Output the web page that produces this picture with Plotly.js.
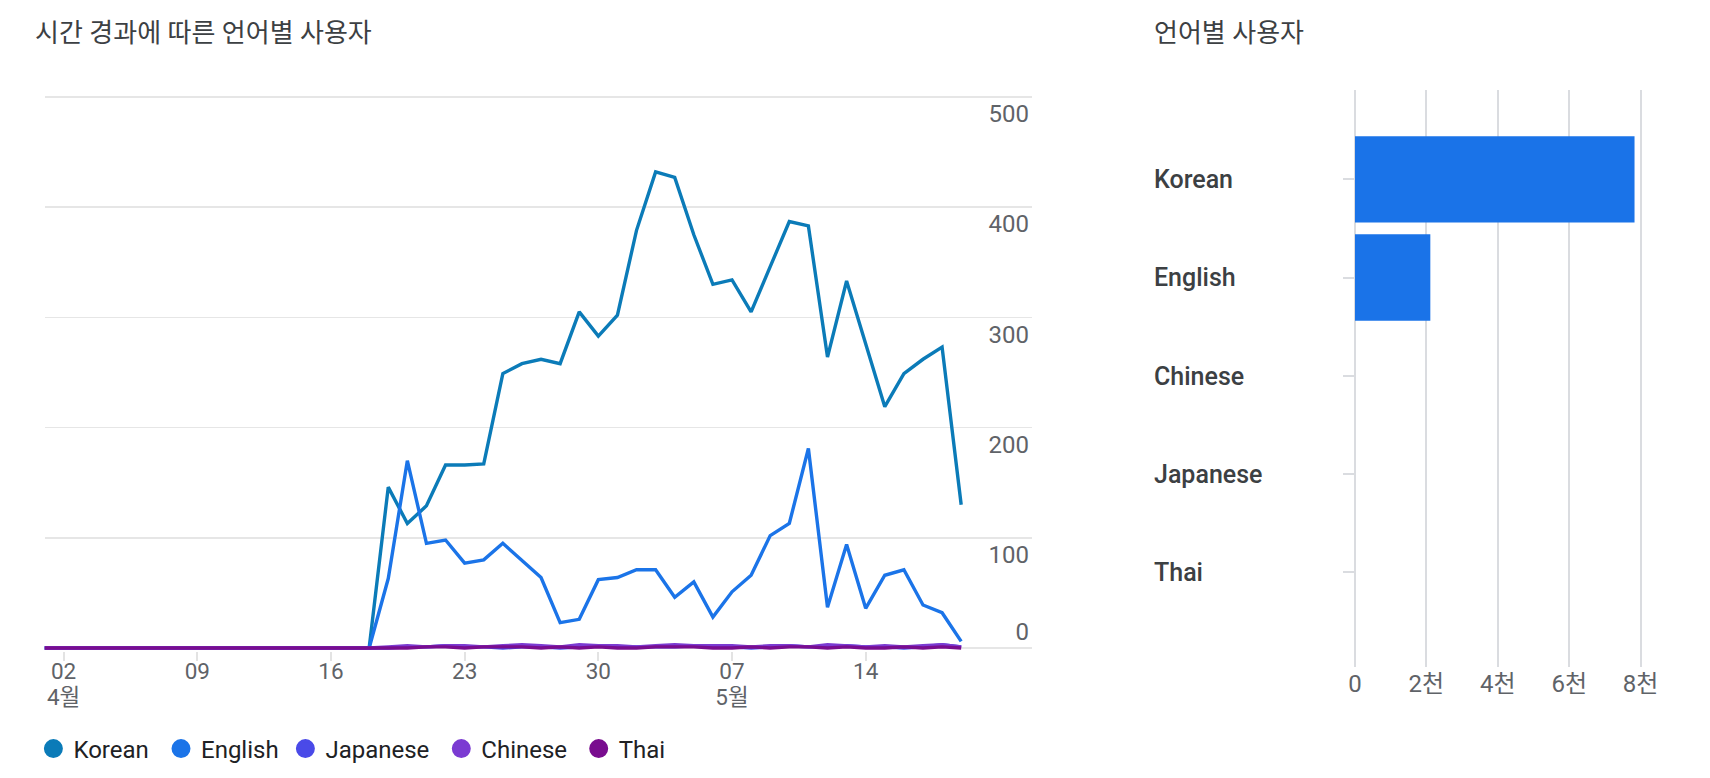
<!DOCTYPE html>
<html>
<head>
<meta charset="utf-8">
<script src="https://cdn.plot.ly/plotly-3.0.1.min.js"></script>
<style>
html,body{margin:0;padding:0;background:#ffffff;}
#chart{width:1710px;height:778px;}
</style>
</head>
<body>
<div id="chart"></div>
<script>
// ---------- data ----------
const dates = [
  '2023-04-01','2023-04-02','2023-04-03','2023-04-04','2023-04-05','2023-04-06','2023-04-07',
  '2023-04-08','2023-04-09','2023-04-10','2023-04-11','2023-04-12','2023-04-13','2023-04-14',
  '2023-04-15','2023-04-16','2023-04-17','2023-04-18','2023-04-19','2023-04-20','2023-04-21',
  '2023-04-22','2023-04-23','2023-04-24','2023-04-25','2023-04-26','2023-04-27','2023-04-28',
  '2023-04-29','2023-04-30','2023-05-01','2023-05-02','2023-05-03','2023-05-04','2023-05-05',
  '2023-05-06','2023-05-07','2023-05-08','2023-05-09','2023-05-10','2023-05-11','2023-05-12',
  '2023-05-13','2023-05-14','2023-05-15','2023-05-16','2023-05-17','2023-05-18','2023-05-19'
];
const korean = [
  0,0,0,0,0,0,0,0,0,0,0,0,0,0,0,0,0,0,
  146,113,129,166,166,167,249,258,262,258,305,283,
  302,379,432,427,375,330,334,305,346,387,383,264,333,276,219,249,262,273,130
];
const english = [
  0,0,0,0,0,0,0,0,0,0,0,0,0,0,0,0,0,0,
  63,170,95,98,77,80,95,79,64,23,26,62,
  64,71,71,46,60,28,51,66,102,113,181,37,94,36,66,71,39,32,6
];
const japanese = [
  0,0,0,0,0,0,0,0,0,0,0,0,0,0,0,0,0,0,
  0,1,1,2,1,1,0,1,1,0,1,2,
  1,1,1,1,2,1,1,0,1,2,1,1,2,1,1,0,1,3,1
];
const chinese = [
  0,0,0,0,0,0,0,0,0,0,0,0,0,0,0,0,0,0,
  1,2,1,2,2,1,2,3,2,1,3,2,
  2,1,2,3,2,2,2,1,2,2,1,3,2,1,2,1,2,3,1
];
const thai = [
  0,0,0,0,0,0,0,0,0,0,0,0,0,0,0,0,0,0,
  0,0,1,1,0,1,1,1,0,1,0,1,
  0,0,1,1,1,0,0,1,0,1,1,0,1,0,0,1,0,1,0
];
const seriesNames = ['Korean','English','Japanese','Chinese','Thai'];
const seriesColors = ['#0b7bb8','#1b74e8','#4a4ae8','#7b3bd2','#790d8f'];
const seriesValues = [korean, english, japanese, chinese, thai];

const xTickVals = ['2023-04-02','2023-04-09','2023-04-16','2023-04-23','2023-04-30','2023-05-07','2023-05-14'];
const xTickText = ['02','09','16','23','30','07','14'];
const monthTickVals = ['2023-04-02','2023-05-07'];
const monthTickText = ['4월','5월'];
const yTickVals = [0,100,200,300,400,500];
const yTickText = ['','100','200','300','400','500'];
const yZeroVals = [0];
const yZeroText = ['0'];

const barCategories = ['Korean','English','Chinese','Japanese','Thai'];
const barValues = [7830, 2110, 0, 0, 0];
const barTickVals = [0,2000,4000,6000,8000];
const barTickText = ['0','2천','4천','6천','8천'];

const leftTitle = '시간 경과에 따른 언어별 사용자';
const rightTitle = '언어별 사용자';

// ---------- layout helpers ----------
const W = 1710, H = 778;
const px = v => v / W;
const py = v => 1 - v / H;
const FONT = "Roboto, 'Noto Sans CJK KR', sans-serif";
const xRange = ['2023-04-01 00:00', '2023-05-22 17:00'];
const yRange = [-3, 503];
const barYRange = [4.965, -0.91];
const barXRange = [-60, 8100];
const legendIds = ['legend','legend2','legend3','legend4','legend5'];
const legendLeft = [33.4, 161, 285.4, 441.3, 578.7];

const traces = [];
seriesNames.forEach((n, i) => {
  traces.push({
    type: 'scatter', mode: 'lines', x: dates, y: seriesValues[i], name: n,
    line: {color: seriesColors[i], width: 3.4}, xaxis: 'x', yaxis: 'y',
    showlegend: false, hoverinfo: 'x+y+name'
  });
});
seriesNames.forEach((n, i) => {
  traces.push({
    type: 'scatter', mode: 'markers', x: [null], y: [null], name: n,
    marker: {color: seriesColors[i], size: 16, line: {color: seriesColors[i], width: 3}},
    xaxis: 'x', yaxis: 'y', legend: legendIds[i],
    showlegend: true, hoverinfo: 'skip'
  });
});
// helper traces so overlay axes are drawn
traces.push({type: 'scatter', mode: 'markers', x: monthTickVals, y: [null, null], xaxis: 'x3', yaxis: 'y', showlegend: false, hoverinfo: 'skip'});
traces.push({type: 'scatter', mode: 'markers', x: [null], y: yZeroVals, xaxis: 'x', yaxis: 'y4', showlegend: false, hoverinfo: 'skip'});
// bar chart
traces.push({
  type: 'bar', orientation: 'h', x: barValues, y: barCategories,
  marker: {color: '#1a73e8'}, width: 0.88, xaxis: 'x2', yaxis: 'y2', showlegend: false
});
traces.push({type: 'scatter', mode: 'markers', x: barCategories.map(() => null), y: barCategories, xaxis: 'x2', yaxis: 'y3', showlegend: false, hoverinfo: 'skip'});

const tickFont = {family: FONT, size: 24, color: '#5f6368'};
const xTickFont = {family: FONT, size: 22.5, color: '#5f6368'};
const leftYDomain = [py(648 + 3 * 1.102), py(97 - 3 * 1.102)];
const barPx = 71.4 / 2000;

const layout = {
  width: W, height: H,
  margin: {l: 0, r: 0, t: 0, b: 0},
  paper_bgcolor: '#ffffff', plot_bgcolor: 'rgba(0,0,0,0)',
  font: {family: FONT, color: '#3c4043'},
  showlegend: true,
  xaxis: {
    type: 'date', domain: [px(44.5), px(1032)], range: xRange, anchor: 'y',
    tickvals: xTickVals, ticktext: xTickText, ticks: 'outside', ticklen: 9, tickwidth: 2,
    tickcolor: '#e3e3e3', showgrid: false, zeroline: false, showline: false,
    tickfont: xTickFont, ticklabelstandoff: -9, fixedrange: true
  },
  xaxis3: {
    type: 'date', overlaying: 'x', range: xRange, anchor: 'y', side: 'bottom',
    tickvals: monthTickVals, ticktext: monthTickText, ticks: '', ticklabelstandoff: 30,
    showgrid: false, zeroline: false, showline: false, tickfont: xTickFont
  },
  yaxis: {
    domain: leftYDomain, range: yRange, side: 'right', anchor: 'x',
    tickvals: yTickVals, ticktext: yTickText, ticklabelposition: 'inside bottom',
    gridcolor: '#e6e6e6', gridwidth: 1.5, zeroline: false, showline: false, ticks: '',
    tickfont: tickFont, fixedrange: true
  },
  yaxis4: {
    overlaying: 'y', range: yRange, side: 'right', anchor: 'x',
    tickvals: yZeroVals, ticktext: yZeroText, ticklabelposition: 'inside top',
    showgrid: false, zeroline: false, showline: false, ticks: '', tickfont: tickFont
  },
  xaxis2: {
    domain: [px(1355 + barXRange[0] * barPx), px(1355 + barXRange[1] * barPx)], range: barXRange, anchor: 'y2',
    tickvals: barTickVals, ticktext: barTickText, ticks: '',
    gridcolor: '#dadce0', gridwidth: 2, zeroline: false, showline: false,
    tickfont: tickFont, fixedrange: true
  },
  yaxis2: {
    domain: [py(667), py(90)], type: 'category', categoryarray: barCategories,
    range: barYRange, anchor: 'free', position: px(1355), ticks: 'outside', ticklen: 12, tickwidth: 2,
    tickcolor: '#dadce0', showticklabels: false, showgrid: false, zeroline: false, showline: false
  },
  yaxis3: {
    overlaying: 'y2', anchor: 'free', position: px(1150), side: 'left',
    type: 'category', categoryarray: barCategories, range: barYRange,
    ticklabelposition: 'inside', ticks: '', showgrid: false, zeroline: false, showline: false,
    tickfont: {family: FONT, size: 25, color: '#3c4043', weight: 500}
  },
  annotations: [
    {text: leftTitle, xref: 'paper', yref: 'paper', x: px(33), y: py(33), xanchor: 'left', yanchor: 'middle',
     showarrow: false, font: {family: FONT, size: 26, color: '#3c4043'}},
    {text: rightTitle, xref: 'paper', yref: 'paper', x: px(1152), y: py(33), xanchor: 'left', yanchor: 'middle',
     showarrow: false, font: {family: FONT, size: 26, color: '#3c4043'}}
  ]
};
legendIds.forEach((id, i) => {
  layout[id] = {
    orientation: 'h', x: px(legendLeft[i]), y: py(749), xanchor: 'left', yanchor: 'middle',
    font: {family: FONT, size: 24, color: '#202124'}, bgcolor: 'rgba(0,0,0,0)'
  };
});

Plotly.newPlot('chart', traces, layout, {displayModeBar: false, staticPlot: true});
</script>
</body>
</html>
